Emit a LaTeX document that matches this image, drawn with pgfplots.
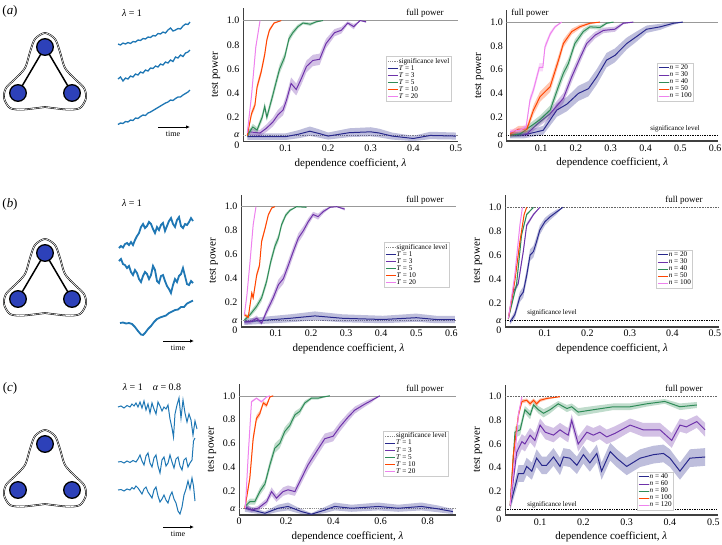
\documentclass[border=0pt]{standalone}
\usepackage{fontspec}
\setmainfont{Liberation Serif}
\usepackage{pgfplots}
\pgfplotsset{compat=1.18}
\usepackage{pgfplotstable}
\usetikzlibrary{arrows.meta}

\definecolor{cA}{RGB}{40,40,140}
\definecolor{cB}{RGB}{110,50,170}
\definecolor{cC}{RGB}{46,139,87}
\definecolor{cD}{RGB}{255,69,0}
\definecolor{cE}{RGB}{238,130,238}
\definecolor{tsblue}{RGB}{31,119,180}
\definecolor{nodeblue}{RGB}{45,65,185}

% ---------- row (a), middle: T series
\pgfplotstableread{
x y
0.01 0.04
0.05 0.04
0.10 0.04
0.13 0.06
0.157 0.085
0.18 0.065
0.20 0.045
0.25 0.073
0.30 0.08
0.32 0.07
0.35 0.045
0.40 0.025
0.44 0.05
0.50 0.045
}\amA
\pgfplotstableread{
x y
0.01 0.07
0.015 0.08
0.04 0.07
0.055 0.11
0.07 0.16
0.082 0.22
0.094 0.26
0.102 0.34
0.113 0.48
0.125 0.43
0.137 0.52
0.149 0.62
0.164 0.67
0.18 0.68
0.195 0.81
0.215 0.90
0.231 0.92
0.246 0.98
0.26 0.95
0.275 1.0
0.289 0.99
}\amB
\pgfplotstableread{
x y
0.01 0.05
0.023 0.12
0.033 0.095
0.045 0.20
0.051 0.29
0.056 0.20
0.069 0.37
0.077 0.48
0.086 0.60
0.098 0.70
0.108 0.85
0.117 0.90
0.129 0.95
0.141 0.98
0.158 0.97
0.172 0.99
0.188 1.0
}\amC
\pgfplotstableread{
x y
0.01 0.05
0.02 0.23
0.028 0.30
0.033 0.45
0.043 0.58
0.051 0.72
0.056 0.84
0.062 0.92
0.073 0.98
0.09 1.0
}\amD
\pgfplotstableread{
x y
0.01 0.07
0.02 0.38
0.03 0.78
0.04 1.0
}\amE
% ---------- row (a), right: n series
\pgfplotstableread{
x y
0.011 0.05
0.049 0.05
0.106 0.09
0.145 0.26
0.174 0.31
0.207 0.40
0.236 0.44
0.26 0.54
0.288 0.68
0.312 0.72
0.346 0.82
0.375 0.88
0.403 0.94
0.442 0.96
0.48 0.99
0.507 1.0
}\arA
\pgfplotstableread{
x y
0.011 0.05
0.059 0.06
0.092 0.15
0.126 0.23
0.164 0.36
0.188 0.54
0.212 0.70
0.231 0.82
0.255 0.89
0.279 0.93
0.312 0.94
0.336 0.99
0.365 1.0
}\arB
\pgfplotstableread{
x y
0.011 0.05
0.04 0.06
0.068 0.12
0.097 0.18
0.126 0.26
0.15 0.46
0.164 0.57
0.178 0.65
0.197 0.82
0.221 0.92
0.24 0.96
0.269 0.955
0.288 0.99
0.308 1.0
}\arC
\pgfplotstableread{
x y
0.011 0.06
0.035 0.10
0.059 0.10
0.078 0.26
0.097 0.373
0.126 0.457
0.15 0.68
0.164 0.82
0.188 0.92
0.212 0.962
0.24 0.99
0.269 1.0
}\arD
\pgfplotstableread{
x y
0.011 0.08
0.039 0.09
0.057 0.12
0.068 0.345
0.078 0.43
0.095 0.62
0.105 0.62
0.111 0.79
0.126 0.90
0.14 0.96
0.159 1.0
}\arE
% ---------- row (b), middle
\pgfplotstableread{
x y
0.01 0.04
0.073 0.055
0.14 0.07
0.211 0.09
0.29 0.07
0.405 0.06
0.50 0.075
0.557 0.06
0.61 0.06
}\bmA
\pgfplotstableread{
x y
0.01 0.04
0.026 0.04
0.045 0.07
0.059 0.03
0.073 0.125
0.092 0.24
0.107 0.35
0.121 0.40
0.135 0.51
0.149 0.625
0.164 0.74
0.178 0.80
0.192 0.875
0.206 0.935
0.22 0.917
0.235 0.96
0.254 0.995
0.273 1.0
0.296 0.98
}\bmB
\pgfplotstableread{
x y
0.01 0.055
0.026 0.10
0.045 0.17
0.059 0.24
0.073 0.375
0.085 0.54
0.097 0.67
0.107 0.74
0.116 0.85
0.128 0.93
0.14 0.97
0.159 1.0
0.187 0.995
}\bmC
\pgfplotstableread{
x y
0.01 0.10
0.021 0.08
0.031 0.28
0.035 0.24
0.045 0.43
0.053 0.51
0.059 0.71
0.069 0.82
0.078 0.93
0.088 0.99
0.097 1.0
}\bmD
\pgfplotstableread{
x y
0.01 0.10
0.017 0.26
0.026 0.54
0.035 0.85
0.043 1.0
}\bmE
% ---------- row (b), right
\pgfplotstableread{
x y
0.018 0.04
0.029 0.10
0.041 0.25
0.049 0.29
0.057 0.43
0.065 0.60
0.073 0.63
0.08 0.71
0.088 0.81
0.10 0.88
0.112 0.92
0.127 0.96
0.142 1.0
}\brA
\pgfplotstableread{
x y
0.014 0.07
0.025 0.29
0.037 0.36
0.049 0.63
0.057 0.85
0.073 0.94
0.088 1.0
}\brB
\pgfplotstableread{
x y
0.014 0.07
0.033 0.35
0.045 0.77
0.057 0.94
0.073 1.0
}\brC
\pgfplotstableread{
x y
0.014 0.07
0.029 0.38
0.041 0.71
0.051 0.94
0.057 1.0
}\brD
\pgfplotstableread{
x y
0.014 0.07
0.029 0.43
0.041 0.85
0.047 1.0
}\brE
% ---------- row (c), middle
\pgfplotstableread{
x y
0.025 0.055
0.11 0.013
0.166 0.055
0.208 0.07
0.265 0.027
0.307 0.005
0.364 0.04
0.406 0.07
0.477 0.055
0.59 0.07
0.675 0.055
0.773 0.07
0.844 0.05
0.907 0.027
}\cmA
\pgfplotstableread{
x y
0.025 0.07
0.053 0.04
0.081 0.055
0.117 0.11
0.138 0.195
0.159 0.14
0.187 0.195
0.208 0.21
0.237 0.195
0.258 0.28
0.293 0.42
0.328 0.53
0.364 0.64
0.399 0.66
0.428 0.74
0.462 0.82
0.491 0.88
0.533 0.93
0.561 0.96
0.597 1.0
}\cmB
\pgfplotstableread{
x y
0.025 0.07
0.046 0.11
0.067 0.11
0.088 0.195
0.11 0.26
0.131 0.42
0.152 0.56
0.173 0.60
0.194 0.70
0.215 0.75
0.237 0.84
0.258 0.87
0.279 0.94
0.307 0.98
0.335 0.98
0.357 0.99
0.385 1.0
}\cmC
\pgfplotstableread{
x y
0.025 0.055
0.046 0.31
0.06 0.64
0.074 0.81
0.088 0.85
0.103 0.94
0.117 0.92
0.131 0.99
0.145 1.0
}\cmD
\pgfplotstableread{
x y
0.027 0.055
0.039 0.50
0.053 0.95
0.074 0.98
0.095 0.95
0.117 0.99
0.131 1.0
}\cmE
% ---------- row (c), right
\pgfplotstableread{
x y
0.031 0.08
0.05 0.35
0.062 0.35
0.069 0.41
0.081 0.37
0.092 0.48
0.104 0.42
0.115 0.42
0.131 0.49
0.146 0.41
0.154 0.49
0.169 0.48
0.185 0.42
0.20 0.51
0.215 0.44
0.231 0.52
0.242 0.37
0.262 0.535
0.277 0.48
0.30 0.41
0.331 0.48
0.362 0.51
0.385 0.52
0.40 0.48
0.423 0.37
0.446 0.48
0.481 0.49
}\crA
\pgfplotstableread{
x y
0.031 0.08
0.046 0.53
0.058 0.62
0.065 0.60
0.077 0.675
0.088 0.63
0.10 0.76
0.112 0.70
0.131 0.675
0.146 0.72
0.158 0.69
0.165 0.675
0.173 0.80
0.188 0.60
0.208 0.70
0.223 0.675
0.238 0.70
0.254 0.66
0.273 0.69
0.308 0.76
0.338 0.72
0.377 0.72
0.404 0.63
0.423 0.76
0.438 0.745
0.462 0.79
0.481 0.72
}\crB
\pgfplotstableread{
x y
0.031 0.08
0.042 0.70
0.054 0.72
0.065 0.89
0.077 0.845
0.085 0.93
0.096 0.89
0.108 0.86
0.123 0.89
0.142 0.94
0.162 0.90
0.173 0.915
0.188 0.87
0.223 0.89
0.269 0.915
0.308 0.915
0.346 0.94
0.388 0.96
0.423 0.915
0.462 0.93
}\crC
\pgfplotstableread{
x y
0.031 0.08
0.038 0.50
0.05 0.845
0.058 0.96
0.069 0.97
0.077 0.94
0.085 0.97
0.092 0.94
0.10 0.97
0.115 0.985
0.146 1.0
}\crD
\pgfplotstableread{
x y
0.031 0.08
0.042 0.50
0.05 0.85
0.058 1.0
}\crE

% band (upper edge forward, lower edge back) + line + legend entry
\newcommand{\curve}[5]{%
  \pgfplotstablesort[sort key=x, sort cmp=float <]{\fwdtab}{#1}%
  \pgfplotstablesort[sort key=x, sort cmp=float >]{\revtab}{#1}%
  \pgfplotstablecreatecol[create col/expr={\thisrow{y}+#3*sqrt(\thisrow{y}*(1-\thisrow{y}))}]{b}{\fwdtab}%
  \pgfplotstablecreatecol[create col/expr={\thisrow{y}-#3*sqrt(\thisrow{y}*(1-\thisrow{y}))}]{b}{\revtab}%
  \pgfplotstablevertcat{\fwdtab}{\revtab}%
  \addplot[fill=#2, fill opacity=0.3, draw=none, forget plot] table[x=x, y=b] {\fwdtab};
  \addplot[#2, line width=1pt] table[x=x, y=y] {#1};
  \addlegendentry{#5}
}

\pgfplotsset{
  panel/.style={
    scale only axis, anchor=south west, ymin=0, ymax=1.1,
    axis x line*=bottom, axis y line*=left, separate axis lines,
    axis line style={-, black!75},
    x axis line style={line width=1.6pt}, y axis line style={line width=0.7pt},
    major tick length=0pt,
    ytick={0.05,0.2,0.4,0.6,0.8,1.0},
    yticklabels={{\itshape α},0.2,0.4,0.6,0.8,1.0},
    extra y ticks={0}, extra y tick labels={0},
    extra y tick style={yticklabel style={yshift=-4pt}},
    tick label style={font=\fontsize{10}{10}\selectfont},
    xlabel={dependence coefficient, {\itshape λ}}, ylabel={test power},
    label style={font=\fontsize{11}{11}\selectfont},
    legend cell align=left,
    legend image code/.code={\draw[##1] (0pt,0pt) -- (10pt,0pt);},
    legend style={font=\fontsize{7.2}{7.2}\selectfont, draw=black!20,
      inner sep=1.2pt, row sep=0pt, nodes={inner sep=0.4pt}},
  },
  canvas/.style={scale only axis, hide axis, clip=false,
    width=722pt, height=545pt, xmin=0, xmax=722, ymin=0, ymax=545, y dir=reverse,
    at={(361pt,-272.5pt)}, anchor=center},
}

\begin{document}
\begin{tikzpicture}
\useasboundingbox (0,0) rectangle (722pt,-545pt);

% ---------- schematic diagrams, sample paths and captions
\begin{axis}[canvas]
% hulls
\addplot[black, line width=0.55pt, double, double distance=0.6pt, smooth] coordinates {(45,107) (67,109.5) (80,108) (86,98) (84,88) (75,79) (65,68) (60,52) (55,39) (45,33) (35,39) (30,52) (25,68) (15,79) (6,88) (4,98) (10,108) (23,109.5) (45,107)};
\addplot[black, line width=0.55pt, double, double distance=0.6pt, smooth] coordinates {(45,313) (67,315.5) (80,314) (86,304) (84,294) (75,285) (65,274) (60,258) (55,245) (45,239) (35,245) (30,258) (25,274) (15,285) (6,294) (4,304) (10,314) (23,315.5) (45,313)};
\addplot[black, line width=0.55pt, double, double distance=0.6pt, smooth] coordinates {(45,504) (67,506.5) (80,505) (86,495) (84,485) (75,476) (65,465) (60,449) (55,436) (45,430) (35,436) (30,449) (25,465) (15,476) (6,485) (4,495) (10,505) (23,506.5) (45,504)};
% edges
\addplot[black, line width=1.5pt] coordinates {(18,93) (45,47) (72,93)};
\addplot[black, line width=1.5pt] coordinates {(18,299) (45,253) (72,299)};
% nodes
\addplot[only marks, mark=*, mark size=8.3pt, mark options={fill=nodeblue, draw=black, line width=1.3pt}] coordinates {(45,47) (18,93) (72,93)};
\addplot[only marks, mark=*, mark size=8.3pt, mark options={fill=nodeblue, draw=black, line width=1.3pt}] coordinates {(45,253) (18,299) (72,299)};
\addplot[only marks, mark=*, mark size=8.3pt, mark options={fill=nodeblue, draw=black, line width=1.3pt}] coordinates {(45,444) (18,490) (72,490)};

% sample paths (a)
\addplot[tsblue, line width=1.3pt] coordinates {(118,44) (120.5,45) (123,43) (125.5,44) (128,42.5) (130.5,43.5) (133,41.5) (135.5,42) (138,40) (140.5,40.5) (143,38.5) (145.5,39) (148,37) (150.5,37.5) (153,35.5) (155.5,36) (158,33.5) (160.5,34) (163,32) (165.5,33) (168,30) (170.5,28) (173,31) (175.5,30) (178,28.5) (180.5,29) (183,26) (185.5,24) (188,24.5) (190,22)};
\addplot[tsblue, line width=1.3pt] coordinates {(118,79) (120.5,77) (123,81) (125.5,78) (128,79) (130.5,76) (133,77) (135.5,74) (138,75) (140.5,72) (143,73) (145.5,70) (148,71) (150.5,68) (153,68.5) (155.5,66) (158,67) (160.5,64) (163,65) (165.5,62) (168,63) (170.5,60) (173,61.5) (175.5,57) (178,58) (180.5,55) (183,56.5) (185.5,53) (188,52) (190,50)};
\addplot[tsblue, line width=1.3pt] coordinates {(118,124.5) (120.5,123) (123,123.5) (125.5,121.5) (128,122) (130.5,120) (133,120.5) (135.5,118) (138,118.5) (140.5,116.5) (143,115) (145.5,115.5) (148,113) (150.5,112) (153,110.5) (155.5,109) (158,107.5) (160.5,106) (163,104.5) (165.5,103) (168,102) (170.5,100) (173,100.5) (175.5,98.5) (178,97) (180.5,97) (183,95) (185.5,93.5) (188,92) (190,90)};
% sample paths (b)
\addplot[tsblue, line width=1.8pt] coordinates {(119,248) (121,246) (123,247.5) (125,244) (127,243) (129,245) (131,242) (133,245) (135,240) (137,236) (139,233) (141,227) (143,224) (145,228) (147,226) (149,222) (151,224) (153,229) (155,233) (157,227) (159,230) (161,225) (163,223) (165,231) (167,226) (169,221) (171,218) (173,224) (175,227) (177,220) (179,217) (181,226) (183,228) (185,224) (187,225) (189,222) (191,218) (193,221)};
\addplot[tsblue, line width=1.8pt] coordinates {(119,261) (121,259) (123,264) (125,265) (127,268) (129,266) (131,272) (133,275) (135,270) (137,273) (139,279) (141,282) (143,276) (145,272) (147,274) (149,279) (151,275) (153,266) (155,270) (157,281) (159,283) (161,276) (163,275) (165,281) (167,286) (169,289) (171,293) (173,285) (175,279) (177,282) (179,276) (181,274) (183,268) (185,276) (187,284) (189,285) (191,281) (193,283)};
\addplot[tsblue, line width=1.8pt] coordinates {(120,323) (123,322.5) (126,323.5) (129,323) (132,324) (135,327) (138,331) (141,334.5) (143,335) (145,333) (148,329) (151,326) (154,322) (157,319) (160,317.5) (163,316.5) (166,315.5) (169,313) (172,311.5) (175,310) (178,309.5) (181,307) (184,307) (187,303.5) (190,302) (193,300.5)};
% sample paths (c)
\addplot[tsblue, line width=1pt] coordinates {(118,407) (121,406) (124,408) (127,405.5) (130,407) (132,404) (134,406) (136,403) (138,407) (140,402) (142,408) (144,401) (146,410) (148,404) (150,413) (152,403) (154,409) (156,414) (158,402) (160,406) (162,411) (164,407) (166,409) (168,405) (170,419) (172,428) (173.5,437) (175,414) (177,405) (179,398) (181,418) (183,400) (185,413) (187,422) (189,414) (191,420) (193,435) (195,421) (197,429)};
\addplot[tsblue, line width=1pt] coordinates {(118,462) (121,461.5) (124,463) (127,461) (130,462.5) (133,460.5) (136,462) (138,459) (140,455) (142,461) (144,465) (146,456) (148,453) (150,463) (152,467) (154,458) (156,455) (158,466) (160,473) (162,460) (164,457) (166,466) (168,463) (170,455) (172,462) (174,468) (176,459) (178,457) (180,466) (182,470) (184,460) (186,458) (188,467) (190,463) (192,460) (193.5,441) (195,438)};
\addplot[tsblue, line width=1pt] coordinates {(118,490) (121,489.5) (124,491) (127,489) (130,490) (132,487.5) (134,489) (136,486) (138,488) (140,491) (142,494) (144,489) (146,487) (148,492) (150,495) (152,498) (154,490) (156,487) (158,496) (160,502) (162,499) (164,495) (166,500) (168,503) (170,496) (172,492) (174,499) (176,503) (178,511) (180,514) (182,507) (184,495) (186,489) (188,481) (190,489) (192,478) (193.5,486) (195,501)};

% time arrows
\draw[-{Latex[length=4pt,width=3.5pt]}, line width=0.8pt] (axis cs:158,127) -- (axis cs:190,127);
\draw[-{Latex[length=4pt,width=3.5pt]}, line width=0.8pt] (axis cs:163,341) -- (axis cs:194,341);
\draw[-{Latex[length=4pt,width=3.5pt]}, line width=0.8pt] (axis cs:163,527) -- (axis cs:194,527);
\node[font=\fontsize{8}{8}\selectfont] at (axis cs:173,134) {time};
\node[font=\fontsize{8}{8}\selectfont] at (axis cs:178,348) {time};
\node[font=\fontsize{8}{8}\selectfont] at (axis cs:178,534) {time};

% captions
\node[font=\fontsize{13}{13}\selectfont] at (axis cs:10,11) {(\textit{a})};
\node[font=\fontsize{13}{13}\selectfont] at (axis cs:10,204) {(\textit{b})};
\node[font=\fontsize{13}{13}\selectfont] at (axis cs:10,388) {(\textit{c})};
\node[font=\fontsize{10}{10}\selectfont] at (axis cs:132,13) {{\itshape λ} = 1};
\node[font=\fontsize{10}{10}\selectfont] at (axis cs:132,203) {{\itshape λ} = 1};
\node[font=\fontsize{10}{10}\selectfont] at (axis cs:152,387) {{\itshape λ} = 1\quad{\itshape α} = 0.8};

% panel annotations
\node[font=\fontsize{9}{9}\selectfont] at (axis cs:425,13) {full power};
\node[font=\fontsize{9}{9}\selectfont] at (axis cs:425,200) {full power};
\node[font=\fontsize{9}{9}\selectfont] at (axis cs:425,389) {full power};
\node[font=\fontsize{9}{9}\selectfont] at (axis cs:530,13) {full power};
\node[font=\fontsize{9}{9}\selectfont] at (axis cs:684,200) {full power};
\node[font=\fontsize{9}{9}\selectfont] at (axis cs:684,389) {full power};
\node[font=\fontsize{7}{7}\selectfont] at (axis cs:675,129) {significance level};
\node[font=\fontsize{7}{7}\selectfont] at (axis cs:552,313) {significance level};
\node[font=\fontsize{7}{7}\selectfont] at (axis cs:552,505) {significance level};
\end{axis}

% ---------- (a) middle
\begin{axis}[panel, at={(243pt,-141.5pt)}, width=215pt, height=133pt,
  xmin=0, xmax=0.505, xtick={0.1,0.2,0.3,0.4,0.5}, xticklabels={0.1,0.2,0.3,0.4,0.5},
  legend style={at={(0.665,0.64)}, anchor=north west}]
\addplot[black!45, line width=0.8pt, dash pattern=on 1.2pt off 1pt] coordinates {(0,0.05) (0.505,0.05)};
\addlegendentry{significance level}
\addplot[black!40, line width=0.6pt, forget plot] coordinates {(0,1) (0.505,1)};
\curve{\amA}{cA}{0.14}{amA}{\textit{T} = 1}
\curve{\amB}{cB}{0.10}{amB}{\textit{T} = 3}
\curve{\amC}{cC}{0.08}{amC}{\textit{T} = 5}
\curve{\amD}{cD}{0.06}{amD}{\textit{T} = 10}
\curve{\amE}{cE}{0.04}{amE}{\textit{T} = 20}
\end{axis}

% ---------- (a) right
\begin{axis}[panel, at={(506.3pt,-141pt)}, width=212pt, height=130.8pt,
  xmin=0, xmax=0.609, xtick={0.1,0.2,0.3,0.4,0.5,0.6}, xticklabels={0.1,0.2,0.3,0.4,0.5,0.6},
  legend style={at={(0.71,0.596)}, anchor=north west}]
\addplot[black!40, line width=0.6pt, forget plot] coordinates {(0,1) (0.609,1)};
\addplot[black, line width=0.7pt, densely dotted, forget plot] coordinates {(0,0.05) (0.609,0.05)};
\curve{\arA}{cA}{0.13}{arA}{\textit{n} = 20}
\curve{\arB}{cB}{0.09}{arB}{\textit{n} = 30}
\curve{\arC}{cC}{0.09}{arC}{\textit{n} = 40}
\curve{\arD}{cD}{0.09}{arD}{\textit{n} = 50}
\curve{\arE}{cE}{0.07}{arE}{\textit{n} = 100}
\end{axis}

% ---------- (b) middle
\begin{axis}[panel, at={(240.9pt,-326.7pt)}, width=215pt, height=132pt,
  xmin=0, xmax=0.613, xtick={0.1,0.2,0.3,0.4,0.5,0.6}, xticklabels={0.1,0.2,0.3,0.4,0.5,0.6},
  legend style={at={(0.665,0.64)}, anchor=north west}]
\addplot[black!45, line width=0.8pt, dash pattern=on 1.2pt off 1pt] coordinates {(0,0.05) (0.613,0.05)};
\addlegendentry{significance level}
\addplot[black!40, line width=0.6pt, forget plot] coordinates {(0,1) (0.613,1)};
\curve{\bmA}{cA}{0.13}{bmA}{\textit{T} = 1}
\curve{\bmB}{cB}{0.09}{bmB}{\textit{T} = 3}
\curve{\bmC}{cC}{0.07}{bmC}{\textit{T} = 5}
\curve{\bmD}{cD}{0.05}{bmD}{\textit{T} = 10}
\curve{\bmE}{cE}{0.03}{bmE}{\textit{T} = 20}
\end{axis}

% ---------- (b) right
\begin{axis}[panel, at={(505pt,-326.7pt)}, width=214.2pt, height=131.3pt,
  xmin=0.006, xmax=0.51, xtick={0.1,0.2,0.3,0.4,0.5}, xticklabels={0.1,0.2,0.3,0.4,0.5},
  legend style={at={(0.705,0.584)}, anchor=north west}]
\addplot[black!60, line width=0.6pt, densely dotted, forget plot] coordinates {(0.006,1) (0.51,1)};
\addplot[black, line width=0.7pt, densely dotted, forget plot] coordinates {(0.006,0.05) (0.51,0.05)};
\curve{\brA}{cA}{0.10}{brA}{\textit{n} = 20}
\curve{\brB}{cB}{0.05}{brB}{\textit{n} = 30}
\curve{\brC}{cC}{0.05}{brC}{\textit{n} = 40}
\curve{\brD}{cD}{0.04}{brD}{\textit{n} = 50}
\curve{\brE}{cE}{0.03}{brE}{\textit{n} = 100}
\end{axis}

% ---------- (c) middle
\begin{axis}[panel, at={(239pt,-514.8pt)}, width=217pt, height=130.9pt,
  xmin=0, xmax=0.92, xtick={0,0.2,0.4,0.6,0.8}, xticklabels={0,0.2,0.4,0.6,0.8},
  extra y ticks={},
  legend style={at={(0.665,0.64)}, anchor=north west}]
\addplot[black!45, line width=0.8pt, dash pattern=on 1.2pt off 1pt] coordinates {(0,0.05) (0.92,0.05)};
\addlegendentry{significance level}
\addplot[black!40, line width=0.6pt, forget plot] coordinates {(0,1) (0.92,1)};
\curve{\cmA}{cA}{0.13}{cmA}{\textit{T} = 1}
\curve{\cmB}{cB}{0.09}{cmB}{\textit{T} = 3}
\curve{\cmC}{cC}{0.08}{cmC}{\textit{T} = 5}
\curve{\cmD}{cD}{0.07}{cmD}{\textit{T} = 10}
\curve{\cmE}{cE}{0.05}{cmE}{\textit{T} = 20}
\end{axis}

% ---------- (c) right
\begin{axis}[panel, at={(505pt,-514.9pt)}, width=212.6pt, height=130pt,
  xmin=0.019, xmax=0.51, xtick={0.1,0.2,0.3,0.4,0.5}, xticklabels={0.1,0.2,0.3,0.4,0.5},
  legend style={at={(0.62,0.33)}, anchor=north west}]
\addplot[black!60, line width=0.6pt, densely dotted, forget plot] coordinates {(0.019,1) (0.51,1)};
\addplot[black, line width=0.7pt, densely dotted, forget plot] coordinates {(0.019,0.05) (0.51,0.05)};
\curve{\crA}{cA}{0.15}{crA}{\textit{n} = 40}
\curve{\crB}{cB}{0.13}{crB}{\textit{n} = 60}
\curve{\crC}{cC}{0.10}{crC}{\textit{n} = 80}
\curve{\crD}{cD}{0.09}{crD}{\textit{n} = 100}
\curve{\crE}{cE}{0.05}{crE}{\textit{n} = 120}
\end{axis}
\end{tikzpicture}
\end{document}
